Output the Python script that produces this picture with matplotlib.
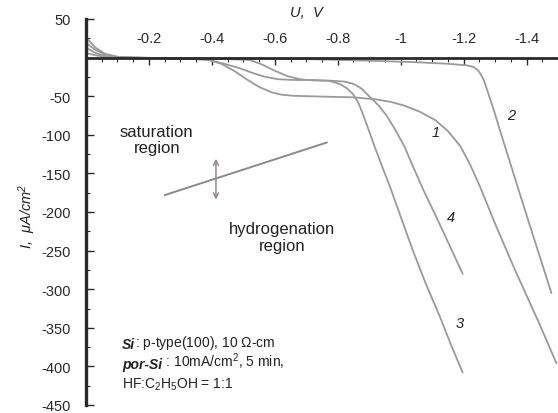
import matplotlib
matplotlib.use("Agg")
import matplotlib.pyplot as plt
from matplotlib.ticker import MultipleLocator

plt.rcParams["font.family"] = ["Liberation Sans", "DejaVu Sans"]
plt.rcParams["mathtext.fontset"] = "custom"
plt.rcParams["mathtext.rm"] = "Liberation Sans"
plt.rcParams["mathtext.it"] = "Liberation Sans:italic"
plt.rcParams["mathtext.default"] = "regular"
plt.rcParams["axes.unicode_minus"] = False

# polarization curves: U (V) vs I (uA/cm2)
U1 = [0, -0.03, -0.06, -0.1, -0.15, -0.25, -0.35, -0.39, -0.43, -0.47, -0.51, -0.55, -0.59,
      -0.62, -0.66, -0.75, -0.85, -0.92, -0.97, -1.01, -1.06, -1.11, -1.15, -1.19, -1.22,
      -1.25, -1.30, -1.36, -1.44, -1.495]
I1 = [19, 10, 4, 1, 0, -1, -2, -3, -8, -17, -28, -38, -45,
      -48, -49.5, -50.5, -51.5, -54, -57.5, -62, -70, -81, -95, -115, -138,
      -165, -215, -272, -344, -396]

U2 = [0, -0.03, -0.06, -0.1, -0.15, -0.3, -0.5, -0.7, -0.9, -1.05, -1.15, -1.21, -1.23,
      -1.245, -1.255, -1.263, -1.27, -1.283, -1.296, -1.308, -1.32, -1.36, -1.40, -1.44, -1.479]
I2 = [6, 3, 1, 0, 0, -1, -1, -2, -4, -6, -8, -10, -12,
      -16, -22, -28, -36, -52, -68, -84, -100, -152, -204, -255, -305]

U3 = [0, -0.03, -0.06, -0.1, -0.15, -0.25, -0.35, -0.39, -0.44, -0.49, -0.53, -0.57, -0.61,
      -0.66, -0.72, -0.77, -0.79, -0.81, -0.83, -0.848, -0.865, -0.879, -0.895, -0.917, -0.94,
      -0.965, -1.0, -1.038, -1.08, -1.124, -1.16, -1.197]
I3 = [26, 13, 5, 1, 0, -1, -2, -3, -8, -14, -20, -25, -28,
      -29, -29, -30, -32, -35, -40, -47, -58, -72, -90, -115, -140,
      -166, -206, -249, -293, -335, -372, -408]

U4 = [0, -0.03, -0.06, -0.1, -0.15, -0.3, -0.45, -0.52, -0.56, -0.60, -0.64, -0.68, -0.72,
      -0.78, -0.82, -0.85, -0.875, -0.90, -0.93, -0.955, -0.985, -1.013, -1.038, -1.075,
      -1.114, -1.155, -1.197]
I4 = [13, 6, 2, 0, 0, -1, -2, -3, -9, -17, -24, -28, -29.5,
      -30, -31, -34, -40, -50, -62, -75, -95, -116, -140, -174,
      -207, -243, -280]

CURVES = [(U1, I1), (U2, I2), (U3, I3), (U4, I4)]
CURVE_LABELS = ["1", "2", "3", "4"]
LABEL_U = [-1.111, -1.352, -1.187, -1.159]
LABEL_I = [-97, -75, -344, -206]

# saturation / hydrogenation boundary
BOUND_U = [-0.251, -0.765]
BOUND_I = [-178, -110]

X_TICKS = [-0.2, -0.4, -0.6, -0.8, -1.0, -1.2, -1.4]
X_TICKLABELS = ["-0.2", "-0.4", "-0.6", "-0.8", "-1", "-1.2", "-1.4"]
Y_TICKS = [50, -50, -100, -150, -200, -250, -300, -350, -400, -450]
Y_TICKLABELS = ["50", "-50", "-100", "-150", "-200", "-250", "-300", "-350", "-400", "-450"]

CURVE_COLOR = "#9a9a9a"
AXIS_COLOR = "#2a2a2a"

fig = plt.figure(figsize=(5.58, 4.14), dpi=100)
ax = fig.add_axes([86 / 558, 8 / 414, 472 / 558, 386 / 414])

for u, i in CURVES:
    ax.plot(u, i, color=CURVE_COLOR, lw=1.3, solid_capstyle="round", solid_joinstyle="round")
for lab, lu, li in zip(CURVE_LABELS, LABEL_U, LABEL_I):
    ax.text(lu, li, lab, fontsize=10.5, style="italic", color="#222", ha="center", va="center")

ax.plot(BOUND_U, BOUND_I, color="#8a8a8a", lw=1.4)
ax.annotate("", xy=(-0.413, -184), xytext=(-0.413, -131),
            arrowprops=dict(arrowstyle="<->", color="#9a8494", lw=1.1,
                            shrinkA=0, shrinkB=0, mutation_scale=9))

ax.text(-0.225, -106, "saturation\nregion", fontsize=12, ha="center", va="center",
        color="#222", linespacing=1.15)
ax.text(-0.622, -232, "hydrogenation\nregion", fontsize=12, ha="center", va="center",
        color="#222", linespacing=1.15)

# sample description block
t1 = ax.text(-0.114, -371, "Si", fontsize=10, weight="bold", style="italic",
             color="#222", va="center")
ax.annotate(r": p-type(100), 10 $\Omega$-cm", xy=(1, 0), xycoords=t1, va="bottom",
            fontsize=10, color="#222")
t2 = ax.text(-0.114, -397, "por-Si", fontsize=10, weight="bold", style="italic",
             color="#222", va="center")
ax.annotate(r" : 10mA/cm$^2$, 5 min,", xy=(1, 0), xycoords=t2, va="bottom",
            fontsize=10, color="#222")
ax.text(-0.114, -423, r"HF:C$_2$H$_5$OH = 1:1", fontsize=10, color="#222", va="center")

ax.set_xlim(0, -1.5)
ax.set_ylim(-450, 50)

for side in ("right", "bottom"):
    ax.spines[side].set_visible(False)
ax.spines["top"].set_position(("data", 0))
ax.spines["top"].set_linewidth(2)
ax.spines["top"].set_color(AXIS_COLOR)
ax.spines["left"].set_linewidth(2.4)
ax.spines["left"].set_color(AXIS_COLOR)

ax.xaxis.set_ticks_position("top")
ax.set_xticks(X_TICKS)
ax.set_xticklabels(X_TICKLABELS)
ax.xaxis.set_minor_locator(MultipleLocator(0.05))
ax.set_yticks(Y_TICKS)
ax.set_yticklabels(Y_TICKLABELS)
ax.yaxis.set_minor_locator(MultipleLocator(25))
ax.tick_params(axis="x", which="major", direction="in", length=5, width=1, pad=9,
               labelsize=10.5, colors=AXIS_COLOR)
ax.tick_params(axis="x", which="minor", direction="in", length=3, width=0.8, colors=AXIS_COLOR)
ax.tick_params(axis="y", which="major", direction="in", length=6, width=1, pad=11,
               labelsize=10.5, colors=AXIS_COLOR)
ax.tick_params(axis="y", which="minor", direction="in", length=3, width=0.8, colors=AXIS_COLOR)

ax.text(0.466, 1.0, "U,  V", transform=ax.transAxes, fontsize=10.5, style="italic",
        ha="center", va="bottom", color="#222")
ax.text(-0.125, 0.49, r"I,  $\mu$A/cm$^2$", transform=ax.transAxes, fontsize=10.5,
        style="italic", rotation=90, ha="center", va="center", color="#222")

fig.savefig("out.png", dpi=100)
